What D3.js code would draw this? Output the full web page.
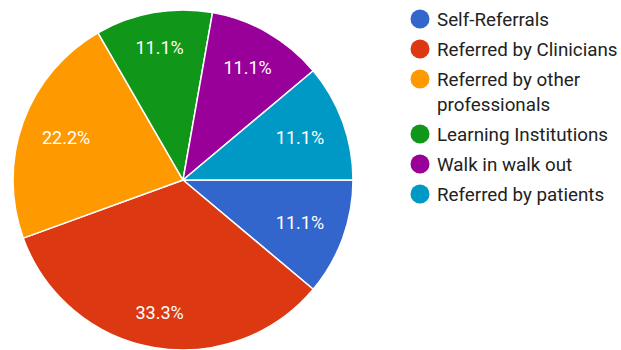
<!DOCTYPE html>
<html>
<head>
<meta charset="utf-8">
<script src="https://cdn.jsdelivr.net/npm/d3@7/dist/d3.min.js"></script>
<style>
  html, body { margin: 0; padding: 0; background: #fff; }
  svg { display: block; font-family: Roboto, "Noto Sans", Arial, sans-serif; }
</style>
</head>
<body>
<svg id="chart" width="621" height="350"></svg>
<script>
// Referral sources and their counts
const categories = [
  "Self-Referrals",
  "Referred by Clinicians",
  "Referred by other professionals",
  "Learning Institutions",
  "Walk in walk out",
  "Referred by patients"
];
const values = [1, 3, 2, 1, 1, 1];
const colors = ["#3366cc", "#dc3912", "#ff9900", "#109618", "#990099", "#0099c6"];

const svg = d3.select("#chart");
const cx = 183, cy = 180, radius = 170;

const data = categories.map((c, i) => ({ name: c, value: values[i], color: colors[i] }));
const total = d3.sum(values);

// Pie starts at 3 o'clock and runs clockwise
const pie = d3.pie()
  .value(d => d.value)
  .sort(null)
  .startAngle(Math.PI / 2)
  .endAngle(Math.PI / 2 + 2 * Math.PI);

const arc = d3.arc().innerRadius(0).outerRadius(radius);
const arcs = pie(data);

const g = svg.append("g").attr("transform", `translate(${cx},${cy})`);

g.selectAll("path.slice")
  .data(arcs)
  .join("path")
  .attr("class", "slice")
  .attr("d", arc)
  .attr("fill", d => d.data.color)
  .attr("stroke", "#fff")
  .attr("stroke-width", 1.5)
  .attr("stroke-linejoin", "round");

// Percentage labels, pulled inward so the text box stays inside the slice
const fmt = d => (d.data.value / total * 100).toFixed(1) + "%";
const labels = g.selectAll("text.pct")
  .data(arcs)
  .join("text")
  .attr("class", "pct")
  .attr("fill", "#fff")
  .attr("font-size", 18)
  .attr("text-anchor", "middle")
  .attr("dy", "0.35em")
  .text(fmt);

labels.each(function(d) {
  const w = this.getComputedTextLength();
  const a = (d.startAngle + d.endAngle) / 2;
  const sx = Math.sin(a), sy = -Math.cos(a);
  const extent = 0.4 * w * Math.abs(sx) + 7 * Math.abs(sy);
  const r = 145 - extent;
  d3.select(this).attr("x", r * sx).attr("y", r * sy);
});

// Legend
const legend = svg.append("g").attr("transform", "translate(420,19)");
const maxTextWidth = 184;
const rowGap = 30, lineHeight = 25;
let yPos = 0;
data.forEach(d => {
  const row = legend.append("g").attr("transform", `translate(0,${yPos})`);
  row.append("circle").attr("r", 9.5).attr("fill", d.color);
  const text = row.append("text")
    .attr("font-size", 18.8)
    .attr("fill", "#222");
  // word wrap to the available width
  const words = d.name.split(" ");
  let line = [];
  let lineNo = 0;
  const newLine = n => text.append("tspan").attr("x", 17).attr("y", n * lineHeight).attr("dy", "0.35em");
  let tspan = newLine(0);
  words.forEach(word => {
    line.push(word);
    tspan.text(line.join(" "));
    if (tspan.node().getComputedTextLength() > maxTextWidth && line.length > 1) {
      line.pop();
      tspan.text(line.join(" "));
      line = [word];
      lineNo++;
      tspan = newLine(lineNo).text(word);
    }
  });
  yPos += rowGap + lineNo * lineHeight;
});
</script>
</body>
</html>
